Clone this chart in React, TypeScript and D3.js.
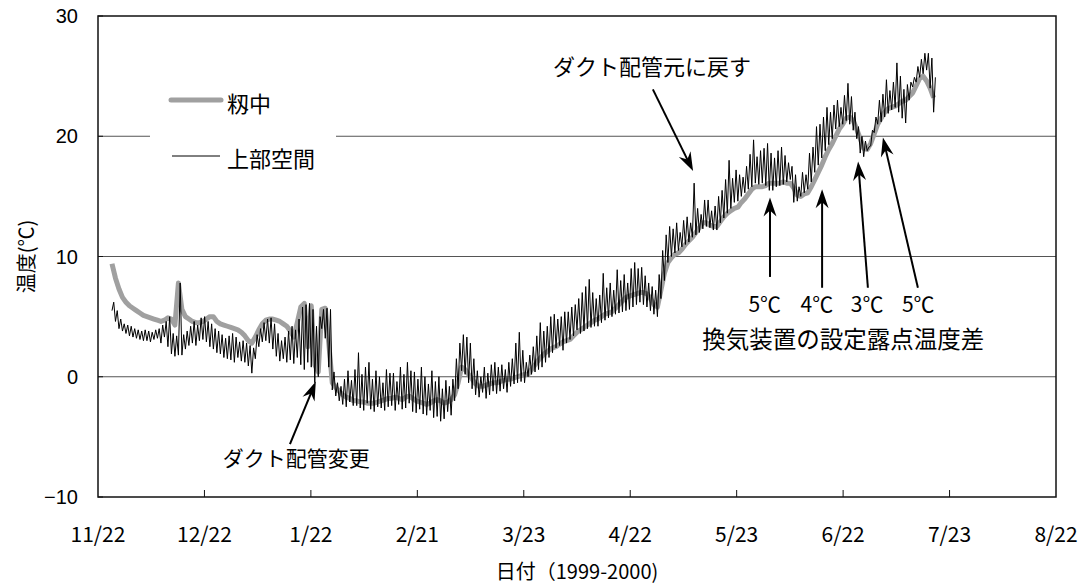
import React from "react";
import * as d3 from "d3";

// ---- axis / category data ----
const xTickLabels = ["11/22", "12/22", "1/22", "2/21", "3/23", "4/22", "5/23", "6/22", "7/23", "8/22"];
const yTicks = [-10, 0, 10, 20, 30];
const gridValues = [0, 10, 20];
const AXIS_DAYS = 274; // 1999-11-22 .. 2000-08-22
const FIRST_DAY = 4; // first data day = 11/26

// 籾中 (grain) daily temperature, from day 4
const grainTemp = [
  9.4, 8.2, 7.3, 6.6, 6.2, 5.9, 5.7, 5.5, 5.3, 5.1,
  5.0, 4.9, 4.8, 4.7, 4.6, 4.7, 4.9, 4.8, 4.3, 7.8,
  5.6, 5.0, 4.8, 4.6, 4.5, 4.5, 4.6, 4.8, 5.0, 5.0,
  4.6, 4.4, 4.3, 4.2, 4.1, 4.0, 3.9, 3.7, 3.4, 3.0,
  2.8, 3.3, 3.9, 4.4, 4.7, 4.8, 4.8, 4.7, 4.6, 4.4,
  4.2, 3.8, 3.3, 4.5, 5.8, 6.1, 2.5, 5.9, 1.0, 0.4,
  5.6, 5.7, 2.8, -0.5, -0.9, -1.2, -1.5, -1.7, -1.8, -2.0,
  -2.0, -2.1, -2.1, -2.2, -2.2, -2.2, -2.1, -2.0, -1.9, -1.8,
  -1.8, -1.7, -1.8, -1.9, -1.7, -1.6, -1.8, -2.0, -2.1, -2.2,
  -2.3, -2.2, -2.0, -1.9, -2.0, -2.2, -2.1, -1.9, -1.5, -0.5,
  0.8, 0.6, 0.2, -0.2, -0.6, -0.8, -0.8, -0.7, -0.6, -0.5,
  -0.5, -0.4, -0.3, -0.2, -0.2, -0.1, 0.0, 0.1, 0.2, 0.2,
  0.6, 1.0, 1.4, 1.7, 2.0, 2.2, 2.4, 2.5, 2.7, 2.9,
  3.0, 3.1, 3.4, 3.7, 3.9, 4.1, 4.3, 4.5, 4.7, 4.8,
  5.0, 5.2, 5.3, 5.4, 5.7, 6.0, 6.3, 6.6, 6.7, 6.8,
  6.9, 7.0, 7.0, 6.9, 6.5, 6.0, 5.8, 7.2, 8.6, 9.5,
  9.9, 10.2, 10.3, 10.6, 11.0, 11.3, 11.6, 12.0, 12.4, 12.8,
  12.8, 12.6, 12.5, 12.5, 12.9, 13.3, 13.6, 13.8, 14.0, 14.1,
  14.5, 14.8, 15.2, 15.6, 15.8, 15.8, 15.8, 15.9, 16.1, 16.1,
  16.1, 16.1, 16.2, 16.1, 16.1, 15.7, 15.1, 15.0, 15.2, 15.3,
  15.8, 16.4, 17.0, 17.6, 18.3, 18.9, 19.4, 20.0, 20.6, 21.0,
  21.5, 21.6, 21.3, 20.6, 19.8, 19.0, 18.9, 19.4, 20.2, 21.0,
  21.5, 22.0, 22.3, 22.4, 22.5, 22.7, 22.9, 23.0, 23.3, 23.6,
  24.2, 24.8, 25.0, 24.6, 24.0, 23.2,
];

// 上部空間 (head space) daily low, from day 4
const headLow = [
  5.5, 4.6, 4.0, 3.8, 3.6, 3.4, 3.3, 3.2, 3.1, 3.0,
  3.0, 2.9, 3.1, 3.2, 2.8, 3.3, 2.5, 1.9, 1.7, 1.8,
  1.8, 2.3, 2.6, 2.8, 2.6, 3.0, 3.1, 2.9, 2.5, 2.3,
  2.0, 1.9, 1.6, 1.5, 1.4, 1.2, 1.6, 1.3, 1.2, 0.9,
  0.3, 1.5, 2.5, 2.9, 3.0, 2.8, 2.3, 1.7, 1.3, 1.5,
  1.2, 1.4, 1.1, 1.6, 1.0, 0.6, 1.2, 0.8, -0.5, 0.0,
  4.0, 3.2, 0.8, -1.1, -1.6, -2.0, -2.3, -2.5, -2.1, -2.4,
  -2.4, -2.6, -2.8, -2.2, -2.7, -2.9, -2.5, -2.6, -2.8, -2.5,
  -2.4, -2.8, -2.3, -2.7, -2.6, -2.2, -2.9, -3.0, -2.7, -3.1,
  -3.2, -2.8, -3.4, -3.3, -3.7, -3.5, -2.9, -3.2, -2.0, -1.0,
  0.5, 0.2, -0.5, -1.0, -1.5, -1.7, -1.3, -1.8, -1.5, -1.2,
  -1.4, -1.2, -1.0, -1.3, -0.8, -0.6, -0.5, -0.4, -0.5, 0.0,
  0.2, 0.4, 0.6, 0.8, 1.2, 1.6, 2.0, 2.4, 2.6, 2.2,
  2.8, 3.1, 3.4, 3.9, 3.6, 3.8, 4.0, 4.1, 4.2, 4.2,
  4.5, 4.7, 4.9, 5.0, 5.2, 5.3, 5.4, 5.5, 5.6, 5.8,
  6.0, 6.2, 6.0, 5.8, 5.5, 5.2, 5.0, 6.5, 8.0, 9.5,
  10.0, 10.3, 10.5, 10.8, 11.0, 11.2, 11.6, 11.8, 12.0, 12.3,
  12.5, 12.4, 12.2, 12.2, 12.8, 13.2, 13.6, 14.0, 14.5, 14.6,
  15.0, 15.3, 15.6, 15.8, 16.1, 16.0, 16.1, 15.9, 15.5, 15.5,
  15.8, 15.9, 16.0, 16.2, 16.4, 14.5, 14.6, 15.0, 15.3, 15.6,
  16.2, 17.0, 17.6, 18.2, 18.8, 19.3, 19.8, 20.6, 20.8, 21.0,
  21.3, 21.0, 20.5, 19.8, 18.6, 18.3, 18.8, 19.2, 20.3, 21.0,
  21.2, 21.6, 21.9, 22.2, 22.4, 22.0, 21.5, 21.1, 23.0, 24.1,
  24.5, 24.9, 25.2, 25.5, 24.0, 22.0,
];

// 上部空間 (head space) daily high, from day 4
const headHigh = [
  6.2, 5.5, 4.8, 4.4, 4.3, 4.2, 4.0, 3.9, 3.8, 3.9,
  3.8, 3.7, 3.9, 4.0, 4.3, 4.6, 5.0, 3.6, 3.4, 7.8,
  3.5, 3.8, 4.2, 4.6, 4.3, 4.9, 5.0, 4.6, 4.4, 4.0,
  3.8, 3.5, 3.2, 3.4, 3.6, 3.3, 2.9, 3.0, 2.8, 2.6,
  2.4, 3.5, 4.0, 4.5, 4.8, 4.9, 4.4, 3.6, 3.0, 3.3,
  3.8, 4.2, 3.9, 4.8, 5.8, 6.0, 6.1, 5.6, 4.2, 5.0,
  5.6, 5.7, 5.6, 0.4, -0.5, -0.8, -0.2, 0.5, -0.3, 0.6,
  2.0, 0.2, 0.8, 1.2, -0.2, 0.5, 0.0, -0.5, 0.6, 0.3,
  0.3, -0.4, 0.8, 0.2, 1.2, 0.5, 0.4, -0.2, 0.8, 0.0,
  -0.6, 0.5, -0.4, 0.0, -1.0, -0.3, -0.8, -0.2, 1.5, 2.8,
  3.5, 3.3, 2.8, 1.5, 0.5, 0.0, 0.8, 0.3, 1.0, 1.2,
  0.8, 1.0, 0.6, 1.2, 1.5, 2.8, 3.7, 2.2, 1.2, 1.8,
  2.5, 3.4, 4.5, 3.8, 4.2, 5.0, 5.2, 4.8, 5.0, 5.4,
  5.4, 5.8, 6.0, 6.5, 7.0, 7.5, 8.1, 7.0, 6.5, 6.8,
  8.6, 7.4, 7.8, 7.2, 8.9, 8.0, 8.5, 7.8, 9.0, 9.5,
  9.0, 9.1, 8.4, 7.8, 7.5, 7.2, 8.5, 10.5, 11.8, 12.5,
  12.3, 12.8, 12.0, 13.0, 13.3, 12.8, 16.1, 14.0, 13.5, 14.7,
  14.7, 13.8, 14.2, 15.0, 15.5, 16.4, 18.0, 16.5, 17.2, 16.8,
  16.6, 17.5, 18.5, 19.7, 18.3, 18.8, 19.0, 19.4, 18.6, 18.2,
  18.8, 19.1, 18.4, 17.8, 17.5, 16.8, 15.8, 17.0, 16.8, 18.6,
  19.1, 20.8, 21.0, 21.6, 22.4, 22.0, 22.6, 23.0, 22.4, 23.4,
  24.4, 23.3, 22.0, 20.8, 20.0, 19.6, 19.1, 20.5, 21.6, 23.0,
  23.5, 24.7, 23.8, 24.5, 26.1, 25.0, 23.9, 24.3, 24.5, 24.9,
  25.8, 26.4, 26.9, 26.9, 26.5, 24.9,
];

// annotation arrows: [fromDay, fromValue, toDay, toValue]
const arrowSpecs = [
  [54.9, -5.6, 62.3, -0.4],
  [158.7, 23.9, 170.2, 17.1],
  [192.2, 8.3, 192.2, 14.9],
  [207.1, 7.4, 207.1, 15.6],
  [220.2, 7.4, 217.4, 17.9],
  [234.5, 7.4, 224.5, 19.9],
];
const diffLabels = ["5℃", "4℃", "3℃", "5℃"];
const diffLabelDays = [190.7, 205.6, 220.0, 234.6];

const W = 1086;
const H = 585;
const M = { left: 98, right: 1056, top: 16, bottom: 497 };
const JP = "'Noto Sans CJK JP', 'Noto Sans', sans-serif";
const SANS = "'Liberation Sans', Arial, sans-serif";

export default function App() {
  const x = d3.scaleLinear().domain([0, AXIS_DAYS]).range([M.left, M.right]);
  const y = d3.scaleLinear().domain([-10, 30]).range([M.bottom, M.top]);

  const grainPts: [number, number][] = grainTemp.map((v, i) => [FIRST_DAY + i, v]);
  const headPts: [number, number][] = [];
  headLow.forEach((lo, i) => {
    headPts.push([FIRST_DAY + i, lo]);
    headPts.push([FIRST_DAY + i + 0.5, headHigh[i]]);
  });

  const line = d3
    .line<[number, number]>()
    .x((d) => x(d[0]))
    .y((d) => y(d[1]));

  const tickStep = AXIS_DAYS / (xTickLabels.length - 1);

  const arrowHead = (x1: number, y1: number, x2: number, y2: number) => {
    const ang = Math.atan2(y2 - y1, x2 - x1);
    const L = 19;
    const hw = 6.5;
    const notch = 13;
    const bx = x2 - L * Math.cos(ang);
    const by = y2 - L * Math.sin(ang);
    const nx = x2 - notch * Math.cos(ang);
    const ny = y2 - notch * Math.sin(ang);
    const px = -Math.sin(ang);
    const py = Math.cos(ang);
    return `M${x2},${y2}L${bx + px * hw},${by + py * hw}L${nx},${ny}L${bx - px * hw},${by - py * hw}Z`;
  };

  return (
    <div style={{ position: "absolute", left: 0, top: 0 }}>
      <svg width={W} height={H} style={{ display: "block", background: "#fff" }}>
        {/* gridlines */}
        {gridValues.map((g) => (
          <line key={g} x1={M.left} x2={M.right} y1={y(g)} y2={y(g)} stroke="#555" strokeWidth={1.2} />
        ))}

        {/* legend box covering gridline */}
        <rect x={150} y={76} width={186} height={100} fill="#fff" />

        {/* series */}
        <path d={line(grainPts) || ""} fill="none" stroke="#a0a0a0" strokeWidth={5} strokeLinejoin="round" />
        <path d={line(headPts) || ""} fill="none" stroke="#000" strokeWidth={1} strokeLinejoin="miter" />

        {/* frame */}
        <rect x={M.left} y={M.top} width={M.right - M.left} height={M.bottom - M.top} fill="none" stroke="#111" strokeWidth={1.5} />

        {/* x ticks */}
        {xTickLabels.map((lab, i) => (
          <g key={lab}>
            {i > 0 && i < xTickLabels.length - 1 && (
              <line x1={x(i * tickStep)} x2={x(i * tickStep)} y1={M.bottom} y2={M.bottom - 7} stroke="#111" strokeWidth={1} />
            )}
            <text x={x(i * tickStep)} y={533} textAnchor="middle" dominantBaseline="central" fontFamily={JP} fontSize={21} fill="#000">
              {lab}
            </text>
          </g>
        ))}

        {/* y ticks */}
        {yTicks.map((t) => (
          <g key={t}>
            <line x1={M.left} x2={M.left + 5} y1={y(t)} y2={y(t)} stroke="#111" strokeWidth={1} />
            <text x={78} y={y(t)} textAnchor="end" dominantBaseline="central" fontFamily={SANS} fontSize={20} fill="#000">
              {t < 0 ? "\u2212" + Math.abs(t) : t}
            </text>
          </g>
        ))}

        {/* axis titles */}
        <text x={577} y={570} textAnchor="middle" dominantBaseline="central" fontFamily={JP} fontSize={20} fill="#000">
          日付（1999-2000)
        </text>
        <text
          transform={`translate(25,${(M.top + M.bottom) / 2}) rotate(-90)`}
          textAnchor="middle"
          dominantBaseline="central"
          fontFamily={JP}
          fontSize={20}
          fill="#000"
        >
          温度(℃)
        </text>

        {/* legend */}
        <line x1={171} x2={221} y1={100} y2={100} stroke="#a0a0a0" strokeWidth={5} strokeLinecap="round" />
        <text x={227} y={102} dominantBaseline="central" fontFamily={JP} fontSize={22} fill="#000">籾中</text>
        <line x1={172} x2={220} y1={156} y2={156} stroke="#000" strokeWidth={1} />
        <text x={227} y={157} dominantBaseline="central" fontFamily={JP} fontSize={22} fill="#000">上部空間</text>

        {/* arrows */}
        {arrowSpecs.map(([d1, v1, d2, v2], i) => {
          const x1 = x(d1), y1 = y(v1), x2 = x(d2), y2 = y(v2);
          const ang = Math.atan2(y2 - y1, x2 - x1);
          return (
            <g key={i}>
              <line x1={x1} y1={y1} x2={x2 - 12 * Math.cos(ang)} y2={y2 - 12 * Math.sin(ang)} stroke="#000" strokeWidth={2} />
              <path d={arrowHead(x1, y1, x2, y2)} fill="#000" />
            </g>
          );
        })}

        {/* annotation texts */}
        <text x={x(35.7)} y={y(-6.7)} dominantBaseline="central" fontFamily={JP} fontSize={21} fill="#000">ダクト配管変更</text>
        <text x={x(130.1)} y={y(25.9)} dominantBaseline="central" fontFamily={JP} fontSize={22} fill="#000">ダクト配管元に戻す</text>
        {diffLabels.map((lab, i) => (
          <text key={i} x={x(diffLabelDays[i])} y={y(6.15)} textAnchor="middle" dominantBaseline="central" fontFamily={JP} fontSize={21} fill="#000">
            {lab}
          </text>
        ))}
        <text x={x(172.8)} y={y(3.2)} dominantBaseline="central" fontFamily={JP} fontSize={23.5} fill="#000">換気装置の設定露点温度差</text>
      </svg>
    </div>
  );
}
